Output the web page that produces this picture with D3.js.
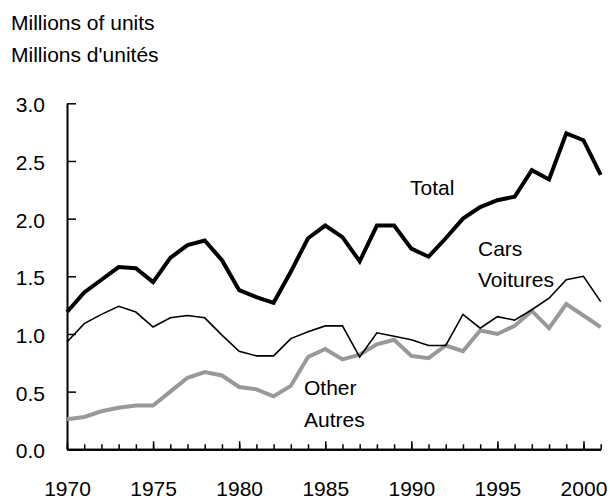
<!DOCTYPE html>
<html>
<head>
<meta charset="utf-8">
<script src="https://cdn.jsdelivr.net/npm/d3@7"></script>
<style>
  body { margin: 0; background: #fff; }
  svg text { font-family: "Liberation Sans", Arial, sans-serif; font-size: 21px; fill: #000; }
</style>
</head>
<body>
<div id="block"></div>
<script>
// data (millions of units)
var years = d3.range(1970, 2002);
var total = [1.19, 1.36, 1.47, 1.58, 1.57, 1.45, 1.66, 1.77, 1.81, 1.64, 1.38, 1.32, 1.27, 1.54, 1.83, 1.94,
             1.84, 1.63, 1.94, 1.94, 1.74, 1.67, 1.83, 2.00, 2.10, 2.16, 2.19, 2.42, 2.34, 2.74, 2.68, 2.38];
var cars = [0.93, 1.09, 1.17, 1.24, 1.19, 1.06, 1.14, 1.16, 1.14, 0.99, 0.85, 0.81, 0.81, 0.96, 1.02, 1.07,
            1.07, 0.80, 1.01, 0.98, 0.95, 0.90, 0.90, 1.17, 1.05, 1.15, 1.12, 1.21, 1.31, 1.47, 1.50, 1.28];
var other = [0.26, 0.28, 0.33, 0.36, 0.38, 0.38, 0.50, 0.62, 0.67, 0.64, 0.54, 0.52, 0.46, 0.55, 0.80, 0.87,
             0.78, 0.82, 0.91, 0.95, 0.81, 0.79, 0.90, 0.85, 1.03, 1.00, 1.07, 1.20, 1.05, 1.26, 1.16, 1.06];
var yTicks = [0, 0.5, 1, 1.5, 2, 2.5, 3];
var xMajor = [1970, 1975, 1980, 1985, 1990, 1995, 2000];

// dimensions
var svg_dx = 610, svg_dy = 500;
var svg = d3.select("#block").append("svg")
            .attr("width", svg_dx)
            .attr("height", svg_dy);

var xScale = d3.scaleLinear().domain([1970, 2001]).range([67, 600.7]);
var yScale = d3.scaleLinear().domain([0, 3]).range([449.3, 103.3]);

// title
svg.append("text").attr("x", 11).attr("y", 30).text("Millions of units");
svg.append("text").attr("x", 11).attr("y", 62).text("Millions d'unités");

// y axis, ticks pointing inward
var yAxis = svg.append("g")
               .attr("transform", "translate(" + xScale(1970) + ",0)")
               .call(d3.axisLeft(yScale)
                       .tickValues(yTicks)
                       .tickFormat(d3.format(".1f"))
                       .tickSize(-9)
                       .tickSizeOuter(0)
                       .tickPadding(22));

// x axis: minor ticks every year, major every five
var xMinor = svg.append("g")
                .attr("transform", "translate(0," + yScale(0) + ")")
                .call(d3.axisBottom(xScale)
                        .tickValues(years)
                        .tickFormat("")
                        .tickSize(-5)
                        .tickSizeOuter(0));
var xAxis = svg.append("g")
               .attr("transform", "translate(0," + yScale(0) + ")")
               .call(d3.axisBottom(xScale)
                       .tickValues(xMajor)
                       .tickFormat(d3.format("d"))
                       .tickSize(-8)
                       .tickSizeOuter(0)
                       .tickPadding(32));

svg.selectAll(".domain").attr("stroke", "#000").attr("stroke-width", 2);
svg.selectAll(".tick line").attr("stroke", "#000").attr("stroke-width", 1.5);
svg.selectAll(".tick text").attr("font-size", null).attr("font-family", null);
yAxis.selectAll(".tick text").attr("dy", "0.4em");

// lines
var line = function (vals) {
    return d3.line()
             .x(function (d, i) { return xScale(years[i]); })
             .y(function (d) { return yScale(d); })(vals);
};

svg.append("path").attr("d", line(other))
   .attr("fill", "none").attr("stroke", "#999").attr("stroke-width", 4);
svg.append("path").attr("d", line(cars))
   .attr("fill", "none").attr("stroke", "#000").attr("stroke-width", 1.6);
svg.append("path").attr("d", line(total))
   .attr("fill", "none").attr("stroke", "#000").attr("stroke-width", 4);

// series labels
svg.append("text").attr("x", 410).attr("y", 195).text("Total");
svg.append("text").attr("x", 478).attr("y", 256).text("Cars");
svg.append("text").attr("x", 478).attr("y", 287).text("Voitures");
svg.append("text").attr("x", 304).attr("y", 395).text("Other");
svg.append("text").attr("x", 304).attr("y", 427).text("Autres");
</script>
</body>
</html>
